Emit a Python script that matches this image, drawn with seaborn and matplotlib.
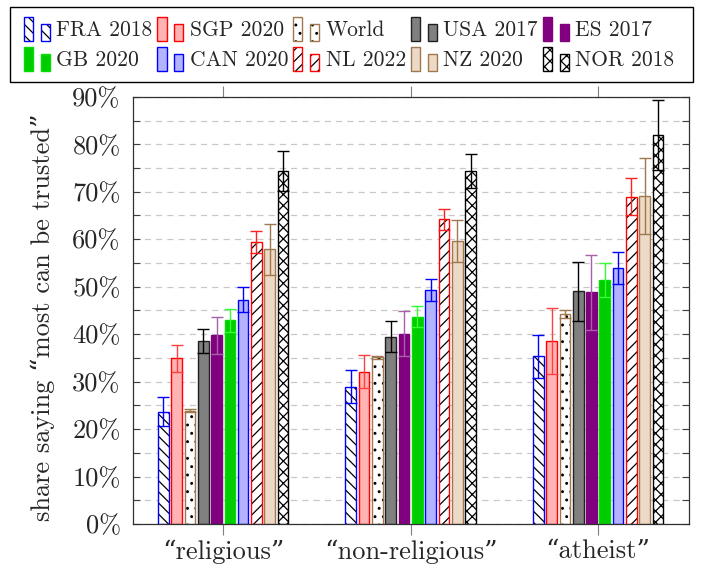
import pandas as pd
import seaborn as sns
import matplotlib.pyplot as plt
from matplotlib.patches import Rectangle
from matplotlib.legend_handler import HandlerBase
from matplotlib.ticker import MultipleLocator, FuncFormatter

groups = ['“religious”', '“non-religious”', '“atheist”']
countries = ['FRA 2018', 'SGP 2020', 'World', 'USA 2017', 'ES 2017',
             'GB 2020', 'CAN 2020', 'NL 2022', 'NZ 2020', 'NOR 2018']

# share (%) per group, and half-width of the error bar
fra = [23.7, 28.9, 35.3]
fra_err = [3.0, 3.5, 4.5]
sgp = [34.9, 32.1, 38.5]
sgp_err = [2.9, 3.5, 7.0]
world = [23.9, 35.1, 44.2]
world_err = [0.3, 0.3, 0.8]
usa = [38.5, 39.5, 49.0]
usa_err = [2.5, 3.2, 6.3]
es = [39.8, 40.1, 48.8]
es_err = [3.9, 4.7, 7.9]
gb = [42.9, 43.7, 51.4]
gb_err = [2.4, 2.2, 3.6]
can = [47.3, 49.3, 54.0]
can_err = [2.6, 2.3, 3.4]
nl = [59.4, 64.2, 68.9]
nl_err = [2.4, 2.2, 3.9]
nz = [57.9, 59.6, 69.1]
nz_err = [5.4, 4.5, 8.0]
nor = [74.3, 74.3, 81.9]
nor_err = [4.2, 3.6, 7.4]

values = [fra, sgp, world, usa, es, gb, can, nl, nz, nor]
errors = [fra_err, sgp_err, world_err, usa_err, es_err,
          gb_err, can_err, nl_err, nz_err, nor_err]

brown = '#a0784f'
# fill, edge, hatch, errorbar colour
styles = {
    'FRA 2018': ('white', '#0000ff', '\\\\\\', '#0000ff'),
    'SGP 2020': ('#ffb3b3', '#ff0000', None, '#ff4040'),
    'World': ('white', brown, '..', brown),
    'USA 2017': ('#808080', '#202020', None, '#000000'),
    'ES 2017': ('#800080', '#800080', None, '#a860a8'),
    'GB 2020': ('#00cc00', '#00e000', None, '#33ff33'),
    'CAN 2020': ('#b3b3ff', '#0000ff', None, '#0000ff'),
    'NL 2022': ('white', '#ff0000', '///', '#ff2020'),
    'NZ 2020': ('#ecd9c6', brown, None, brown),
    'NOR 2018': ('white', '#000000', 'xxx', '#000000'),
}

rows = []
for c, vals in zip(countries, values):
    for g, v in zip(groups, vals):
        rows.append({'group': g, 'country': c, 'value': v})
df = pd.DataFrame(rows)

sns.set_style('white')
plt.rcParams['font.family'] = ['cmr10', 'DejaVu Serif']
plt.rcParams['axes.formatter.use_mathtext'] = True
plt.rcParams['hatch.linewidth'] = 0.9

fig, ax = plt.subplots(figsize=(7.01, 5.73), dpi=100)
fig.subplots_adjust(left=0.19, right=0.983, top=0.831, bottom=0.0855)

sns.barplot(data=df, x='group', y='value', hue='country', order=groups,
            hue_order=countries, palette=[styles[c][0] for c in countries],
            saturation=1, width=0.71, gap=0.2, errorbar=None, legend=False,
            ax=ax, zorder=2)


def outline(x, y, w, h, style, transform=None):
    fill, edge, hatch, _ = style
    kw = {} if transform is None else {'transform': transform}
    if hatch:
        return [Rectangle((x, y), w, h, facecolor=fill, edgecolor='black',
                          hatch=hatch, lw=0, **kw),
                Rectangle((x, y), w, h, fill=False, edgecolor=edge, lw=1.0, **kw)]
    return [Rectangle((x, y), w, h, facecolor=fill, edgecolor=edge, lw=1.0, **kw)]


for c, cont, err in zip(countries, ax.containers, errors):
    st = styles[c]
    xs, ys = [], []
    for p in cont:
        fill, edge, hatch, _ = st
        if hatch:
            p.set_hatch(hatch)
            p.set_edgecolor('black')
            p.set_linewidth(0)
            ax.add_patch(Rectangle(p.get_xy(), p.get_width(), p.get_height(),
                                   fill=False, edgecolor=edge, lw=1.0, zorder=2.5))
        else:
            p.set_edgecolor(edge)
            p.set_linewidth(1.0)
        xs.append(p.get_x() + p.get_width() / 2)
        ys.append(p.get_height())
    ax.errorbar(xs, ys, yerr=err, fmt='none', ecolor=st[3], elinewidth=1.0,
                capsize=4, capthick=1.0, zorder=4)

ax.set_xlim(-0.48, 2.485)
ax.set_ylim(0, 90)
ax.yaxis.set_major_locator(MultipleLocator(10))
ax.yaxis.set_minor_locator(MultipleLocator(5))
ax.yaxis.set_major_formatter(FuncFormatter(lambda v, _: f'{v:.0f}%'))
ax.grid(axis='y', which='both', color='#c8c8c8', ls=(0, (5, 4)), lw=0.9)
ax.set_axisbelow(True)
ax.tick_params(axis='y', which='both', direction='in', length=5, width=0.8,
               color='#404040', left=True, right=True, labelsize=19, pad=9)
ax.tick_params(axis='x', direction='out', length=8, width=0.8, color='#808080',
               bottom=True, top=True, labelsize=19, pad=3)
for s in ax.spines.values():
    s.set_color('#303030')
    s.set_linewidth(0.9)
ax.set_xlabel('')
ax.set_ylabel('share saying “most can be trusted”', fontsize=19)
ax.yaxis.set_label_coords(-0.14, 0.485)


class PairHandler(HandlerBase):
    def create_artists(self, legend, orig_handle, xdescent, ydescent,
                       width, height, fontsize, trans):
        st = styles[orig_handle.get_label()]
        bw = width * 0.35
        y0 = -ydescent - 3
        h = height + 5
        arts = outline(-xdescent, y0, bw, h, st, trans)
        arts += outline(-xdescent + width - bw, y0, bw, h * 0.72, st, trans)
        return arts


# legend fills column by column, so interleave the two rows
order = [0, 5, 1, 6, 2, 7, 3, 8, 4, 9]
handles = [Rectangle((0, 0), 1, 1, label=countries[i]) for i in order]
leg = fig.legend(handles, [countries[i] for i in order], loc='upper left',
                 ncol=5, bbox_to_anchor=(0.006, 1.0, 0.984, 0), mode='expand',
                 handler_map={Rectangle: PairHandler()}, fontsize=15.5,
                 frameon=False, handlelength=1.2, handleheight=0.85,
                 handletextpad=0.3, labelspacing=0.45, borderpad=0.42,
                 columnspacing=0.3)
# box drawn separately so the rows can sit a little higher inside it
fig.add_artist(Rectangle((10 / 701, 1 - 82 / 573), 683 / 701, 75 / 573,
                         transform=fig.transFigure, fill=False,
                         edgecolor='black', lw=1.0))

fig.savefig('out.png', dpi=100)
